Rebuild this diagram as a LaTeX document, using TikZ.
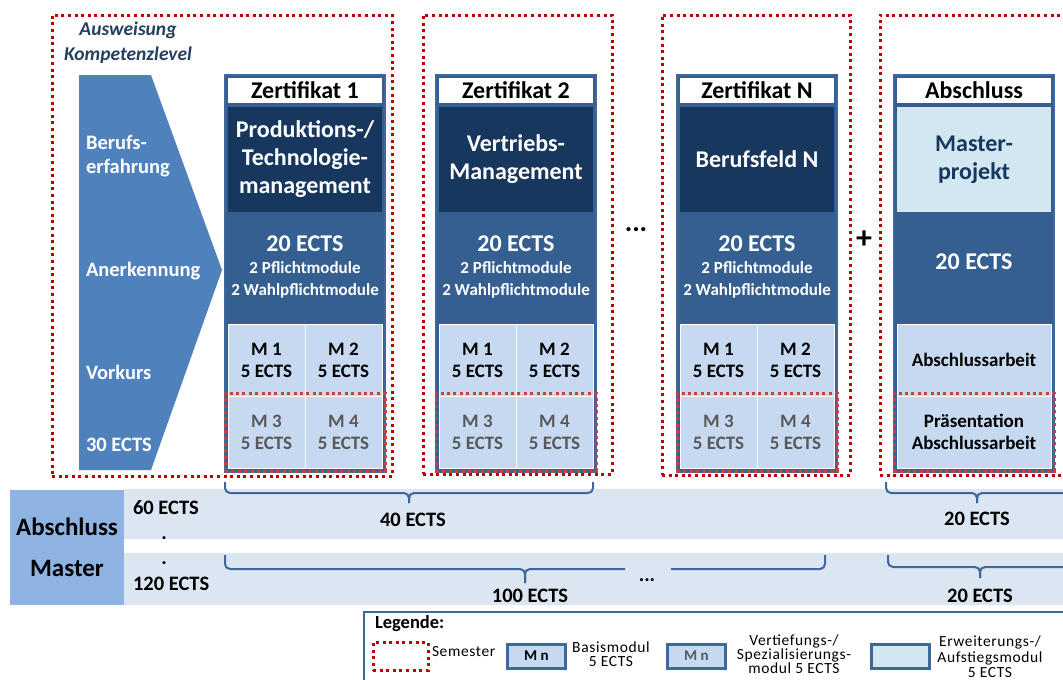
\documentclass[tikz,border=0pt]{standalone}
\usepackage{fontspec}
\setmainfont{Carlito}
\newfontfamily\legfont[LetterSpace=4]{Carlito}
\usetikzlibrary{positioning,fit}
\definecolor{semred}{HTML}{C00000}
\definecolor{vertred}{HTML}{C8413F}
\definecolor{frameblue}{HTML}{40679A}
\definecolor{midblue}{HTML}{365F91}
\definecolor{navy}{HTML}{17375E}
\definecolor{modblue}{HTML}{C6D9F1}
\definecolor{cyanmod}{HTML}{D2E7F1}
\definecolor{chevblue}{HTML}{4F81BD}
\definecolor{bandblue}{HTML}{DCE6F2}
\definecolor{absblue}{HTML}{8DB3E2}
\definecolor{greytext}{HTML}{595959}
\definecolor{kompblue}{HTML}{243F60}

\begin{document}
\begin{tikzpicture}[
    x=1pt, y=-1pt,
    every node/.style={inner sep=0pt, outer sep=0pt},
    sem/.style={draw=semred, line width=3pt, dash pattern=on 3pt off 3.6pt},
    zframe/.style={draw=frameblue, line width=2pt, fill=midblue, minimum width=160pt, minimum height=397pt},
    zhead/.style={fill=white, minimum width=154pt, minimum height=25pt, font=\fontsize{24}{28}\selectfont\bfseries},
    ztitle/.style={fill=navy, text=white, minimum width=154pt, minimum height=105pt, align=center, font=\fontsize{24}{28}\selectfont\bfseries},
    ects/.style={text=white, align=center, font=\fontsize{17}{22}\selectfont\bfseries},
    modcell/.style={fill=modblue, draw=white, line width=1pt, minimum width=77pt, minimum height=72pt, align=center, font=\fontsize{19}{22}\selectfont\bfseries},
    vmodcell/.style={modcell, text=greytext},
    vert/.style={draw=vertred, line width=3pt, dash pattern=on 3pt off 3.4pt, inner sep=3pt},
    chevtext/.style={anchor=west, text=white, align=left, font=\fontsize{20.5}{24}\selectfont\bfseries},
    band/.style={fill=bandblue, minimum width=956pt, anchor=north west},
    bandtext/.style={font=\fontsize{20.5}{24}\selectfont\bfseries},
    brc/.style={draw=frameblue, line width=2pt, rounded corners=5pt},
    legtext/.style={align=center, font=\legfont\fontsize{15.5}{14.5}\selectfont},
    legbox/.style={draw=frameblue, line width=3pt, minimum width=58pt, minimum height=24pt, font=\fontsize{15}{15}\selectfont\bfseries}
  ]
    \useasboundingbox (0,0) rectangle (1063,680);

    % semester
    \node[sem, minimum width=340pt, minimum height=461pt] (sem1) at (222,245.5) {};
    \node[sem, minimum width=189pt, minimum height=459pt] (sem2) at (517.5,244.5) {};
    \node[sem, minimum width=188pt, minimum height=460pt] (sem3) at (756,245) {};
    \node[sem, minimum width=200pt, minimum height=460pt] (sem4) at (980,245) {};

    % Kompetenzlevel
    \node[text=kompblue, align=center, font=\fontsize{19.5}{25}\selectfont\bfseries\itshape] (komp) at (128,43) {Ausweisung\\Kompetenzlevel};
    \fill[chevblue] (79,75) -- (151,75) -- (222,270) -- (151,470) -- (79,470) -- cycle;
    \node[chevtext] (beruf) at (86,156) {Berufs-\\erfahrung};
    \node[chevtext] (anerk) at (86,271) {Anerkennung};
    \node[chevtext] (vork) at (86,372) {Vorkurs};
    \node[chevtext] (vects) at (86,445) {30 ECTS};

    % Zertifikat 1
    \node[zframe] (z1) at (305,273.5) {};
    \node[zhead, below=3pt of z1.north] (z1h) {Zertifikat 1};
    \node[ztitle, below=4pt of z1h] (z1t) {Produktions-/\\Technologie-\\management};
    \node[ects, below=24pt of z1t] (z1e) {{\fontsize{24}{22}\selectfont 20 ECTS}\\2 Pflichtmodule\\2 Wahlpflichtmodule};
    \node[vmodcell, anchor=south west] (z1m3) at ([shift={(3pt,4pt)}]z1.south west) {M 3\\5 ECTS};
    \node[vmodcell, right=0pt of z1m3] (z1m4) {M 4\\5 ECTS};
    \node[modcell, above=0pt of z1m3] (z1m1) {M 1\\5 ECTS};
    \node[modcell, above=0pt of z1m4] (z1m2) {M 2\\5 ECTS};
    \node[vert, fit=(z1m3)(z1m4)] (z1v) {};

    % Zertifikat 2
    \node[zframe] (z2) at (516,273.5) {};
    \node[zhead, below=3pt of z2.north] (z2h) {Zertifikat 2};
    \node[ztitle, below=4pt of z2h] (z2t) {Vertriebs-\\Management};
    \node[ects, below=24pt of z2t] (z2e) {{\fontsize{24}{22}\selectfont 20 ECTS}\\2 Pflichtmodule\\2 Wahlpflichtmodule};
    \node[vmodcell, anchor=south west] (z2m3) at ([shift={(3pt,4pt)}]z2.south west) {M 3\\5 ECTS};
    \node[vmodcell, right=0pt of z2m3] (z2m4) {M 4\\5 ECTS};
    \node[modcell, above=0pt of z2m3] (z2m1) {M 1\\5 ECTS};
    \node[modcell, above=0pt of z2m4] (z2m2) {M 2\\5 ECTS};
    \node[vert, fit=(z2m3)(z2m4)] (z2v) {};

    \node[font=\fontsize{28}{28}\selectfont\bfseries] (dots) at (636,230) {...};

    % Zertifikat N
    \node[zframe] (z3) at (757,273.5) {};
    \node[zhead, below=3pt of z3.north] (z3h) {Zertifikat N};
    \node[ztitle, below=4pt of z3h] (z3t) {Berufsfeld N};
    \node[ects, below=24pt of z3t] (z3e) {{\fontsize{24}{22}\selectfont 20 ECTS}\\2 Pflichtmodule\\2 Wahlpflichtmodule};
    \node[vmodcell, anchor=south west] (z3m3) at ([shift={(3pt,4pt)}]z3.south west) {M 3\\5 ECTS};
    \node[vmodcell, right=0pt of z3m3] (z3m4) {M 4\\5 ECTS};
    \node[modcell, above=0pt of z3m3] (z3m1) {M 1\\5 ECTS};
    \node[modcell, above=0pt of z3m4] (z3m2) {M 2\\5 ECTS};
    \node[vert, fit=(z3m3)(z3m4)] (z3v) {};

    \node[font=\fontsize{32}{32}\selectfont\bfseries] (plus) at (864,240) {+};

    % Abschluss
    \node[zframe] (z4) at (974,273.5) {};
    \node[zhead, below=3pt of z4.north] (z4h) {Abschluss};
    \node[ztitle, fill=cyanmod, text=navy, below=4pt of z4h] (z4t) {Master-\\projekt};
    \node[ects, font=\fontsize{24}{28}\selectfont\bfseries, below=42pt of z4t] (z4e) {20 ECTS};
    \node[modcell, minimum width=154pt, anchor=south west] (z4p) at ([shift={(3pt,4pt)}]z4.south west) {Präsentation\\Abschlussarbeit};
    \node[modcell, minimum width=154pt, above=0pt of z4p] (z4a) {Abschlussarbeit};
    \node[vert, fit=(z4p)] (z4v) {};

    % Abschluss Master
    \node[band, minimum height=50pt] (band1) at (124,489) {};
    \node[band, minimum height=52pt] (band2) at (124,553) {};
    \node[fill=absblue, minimum width=114pt, minimum height=115pt, align=center, font=\fontsize{25}{41}\selectfont\bfseries] (absm) at (67,547.5) {Abschluss\\Master};
    \node[bandtext, anchor=west] (e60) at (133,508) {60 ECTS};
    \node[bandtext] (dot1) at (164,538) {.};
    \node[bandtext] (dot2) at (164,563) {.};
    \node[bandtext, anchor=west] (e120) at (133,584) {120 ECTS};

    \draw[brc] (225,482) |- (409,493) -- (409,503);
    \draw[brc] (593,482) |- (409,493) -- (409,503);
    \node[bandtext] (e40) at (413,520) {40 ECTS};
    \draw[brc] (225,555) |- (525,569) -- (525,583);
    \draw[brc] (625,569) -- (525,569) -- (525,583);
    \draw[brc] (671,569) -| (825,555);
    \node[bandtext] (e100) at (530,596) {100 ECTS};
    \node[bandtext] (bdots) at (647,580) {...};
    \draw[brc] (886,482) |- (977,493) -- (977,503);
    \draw[brc] (1068,482) |- (977,493) -- (977,503);
    \node[bandtext] (e20a) at (977,519) {20 ECTS};
    \draw[brc] (888,555) |- (980,567) -- (980,578);
    \draw[brc] (1072,555) |- (980,567) -- (980,578);
    \node[bandtext] (e20b) at (980,596) {20 ECTS};

    % Legende
    \node[draw=frameblue, line width=1.5pt, fill=white, minimum width=720pt, minimum height=80pt, anchor=north west] (leg) at (364,612) {};
    \node[anchor=west, font=\fontsize{18.5}{18}\selectfont\bfseries] (legt) at (375,624) {Legende:};
    \node[sem, minimum width=55pt, minimum height=28pt] (lsem) at (400.5,656.5) {};
    \node[legtext, anchor=west] (lsemt) at (432,652) {Semester};
    \node[legbox, fill=modblue] (lbas) at (536.5,656) {M n};
    \node[legtext] (lbast) at (611,654) {Basismodul\\5 ECTS};
    \node[legbox, fill=modblue, text=greytext] (lvert) at (696.5,656) {M n};
    \node[legtext, font=\legfont\fontsize{15.5}{14}\selectfont] (lvertt) at (794,654) {Vertiefungs-/\\Spezialisierungs-\\modul 5 ECTS};
    \node[legbox, fill=cyanmod] (lerw) at (900.5,656) {};
    \node[legtext, font=\legfont\fontsize{15.5}{15.5}\selectfont] (lerwt) at (990,657) {Erweiterungs-/\\Aufstiegsmodul\\5 ECTS};
  \end{tikzpicture}
\end{document}
